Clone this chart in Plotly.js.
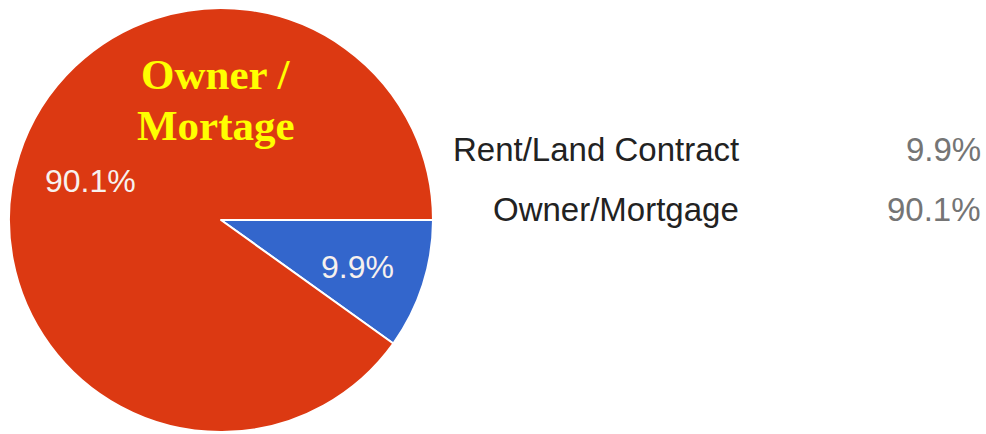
<!DOCTYPE html>
<html>
<head>
<meta charset="utf-8">
<script src="https://cdn.plot.ly/plotly-3.0.1.min.js"></script>
<style>html,body{margin:0;padding:0;background:#fff;}#chart{width:986px;height:434px;}</style>
</head>
<body>
<div id="chart"></div>
<script>
const categories = ["Rent/Land Contract", "Owner/Mortgage"];
const values = [9.9, 90.1];
const sliceColors = ["#3366cc", "#dc3912"];
const overlayLines = ["Owner /", "Mortage"];

const W = 986, H = 434;
const cx = 221, cy = 220, R = 212;
const total = values.reduce((a, b) => a + b, 0);
const pct = values.map(v => (v / total * 100).toFixed(1) + "%");

const trace = {
  type: "pie",
  labels: categories,
  values: values,
  sort: false,
  direction: "clockwise",
  rotation: 90,
  textinfo: "none",
  hoverinfo: "label+percent",
  marker: { colors: sliceColors, line: { color: "#ffffff", width: 2 } },
  domain: { x: [(cx - R) / W, (cx + R) / W], y: [(H - cy - R) / H, (H - cy + R) / H] },
  showlegend: false
};

const annotations = [];
// percent labels inside slices, placed at each slice's mid-angle
let cum = 0;
values.forEach((v, i) => {
  const mid = (cum + v / 2) / total * 2 * Math.PI; // clockwise from 3 o'clock
  cum += v;
  const r = 140;
  const px = cx + 3 + r * Math.cos(mid);
  const py = cy + 4 + r * Math.sin(mid);
  annotations.push({
    xref: "paper", yref: "paper", x: px / W, y: 1 - py / H,
    xanchor: "center", yanchor: "middle", showarrow: false,
    text: pct[i],
    font: { family: "Liberation Sans, Arial, sans-serif", size: 32, color: "#f7f1ee" }
  });
});

// legend-like rows on the right
const rowY = [150, 209];
categories.forEach((c, i) => {
  annotations.push({
    xref: "paper", yref: "paper", x: 741 / W, y: 1 - rowY[i] / H,
    xanchor: "right", yanchor: "middle", showarrow: false,
    text: c,
    font: { family: "Liberation Sans, Arial, sans-serif", size: 33, color: "#222222" }
  });
  annotations.push({
    xref: "paper", yref: "paper", x: 983 / W, y: 1 - rowY[i] / H,
    xanchor: "right", yanchor: "middle", showarrow: false,
    text: pct[i],
    font: { family: "Liberation Sans, Arial, sans-serif", size: 33, color: "#757575" }
  });
});

// yellow overlay title
const overlayY = [75, 125];
overlayLines.forEach((t, i) => {
  annotations.push({
    xref: "paper", yref: "paper", x: 216 / W, y: 1 - overlayY[i] / H,
    xanchor: "center", yanchor: "middle", showarrow: false,
    text: "<b>" + t + "</b>",
    font: { family: "Liberation Serif, Times New Roman, serif", size: 43, color: "#ffff00" }
  });
});

const layout = {
  width: W, height: H,
  margin: { l: 0, r: 0, t: 0, b: 0 },
  paper_bgcolor: "#ffffff",
  plot_bgcolor: "#ffffff",
  showlegend: false,
  annotations: annotations
};

Plotly.newPlot("chart", [trace], layout, { displayModeBar: false, staticPlot: true });
</script>
</body>
</html>
